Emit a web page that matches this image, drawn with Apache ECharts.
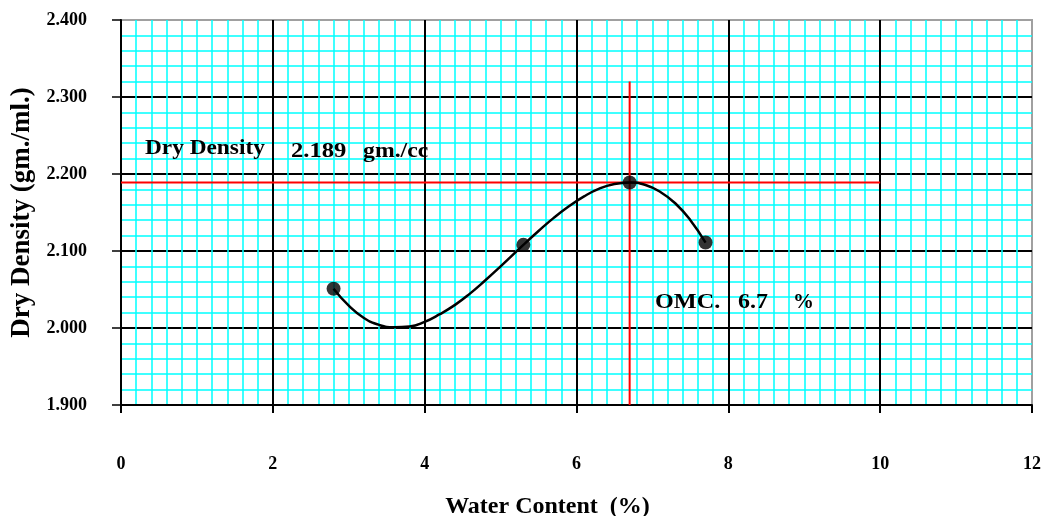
<!DOCTYPE html>
<html>
<head>
<meta charset="utf-8">
<script src="https://cdn.jsdelivr.net/npm/echarts@6/dist/echarts.min.js"></script>
<style>
html,body{margin:0;padding:0;background:#fff;}
#c{width:1044px;height:516px;}
</style>
</head>
<body>
<div id="c"></div>
<script>
// Measured test points (water content %, dry density)
const waterContent = [2.8, 5.3, 6.7, 7.7];
const dryDensity = [2.051, 2.108, 2.189, 2.111];

// Trend curve
const curveX = [2.8, 3.0, 3.2, 3.4, 3.6, 3.8, 4.0, 4.2, 4.4, 4.6, 4.8, 5.0, 5.3, 5.5, 5.7, 5.9, 6.1, 6.3, 6.5, 6.7, 6.9, 7.1, 7.3, 7.5, 7.7];
const curveY = [2.051, 2.029, 2.013, 2.004, 2.001, 2.002, 2.008, 2.018, 2.030, 2.045, 2.062, 2.080, 2.108, 2.126, 2.143, 2.158, 2.171, 2.181, 2.187, 2.189, 2.186, 2.177, 2.162, 2.140, 2.111];

// Result lines
const maxDryDensity = 2.189;
const omc = 6.7;
const mddLineX = [0, 10];
const omcLineY = [1.9, 2.32];

// Axis ranges
const xRange = [0, 12, 2];
const yRange = [1.9, 2.4, 0.1];

const serif = "'Liberation Serif', 'Times New Roman', serif";
const annFont = "bold 22px 'Liberation Serif', serif";

const chart = echarts.init(document.getElementById('c'), null, {renderer: 'canvas'});

function ann(text, x, y, sx) {
  return {type: 'text', x: x, y: y, scaleX: sx, z: 10,
    style: {text: text, font: annFont, fill: '#000', textVerticalAlign: 'middle', verticalAlign: 'middle'}};
}

const option = {
  backgroundColor: '#fff',
  animation: false,
  grid: {left: 121, right: 12, top: 20, bottom: 111, containLabel: false, outerBoundsMode: 'none',
    show: true, borderColor: '#a0a0a0', borderWidth: 2, backgroundColor: 'transparent'},
  xAxis: {
    type: 'value',
    min: xRange[0], max: xRange[1], interval: xRange[2],
    name: 'Water Content  (%)',
    nameLocation: 'middle',
    nameGap: 90,
    nameTextStyle: {fontFamily: serif, fontWeight: 'bold', fontSize: 24, color: '#000', padding: [0, 58, 0, 0]},
    axisLine: {show: true, onZero: false, lineStyle: {color: '#000', width: 2}},
    axisTick: {show: true, length: 8, lineStyle: {color: '#000', width: 2}},
    axisLabel: {margin: 50, fontFamily: serif, fontWeight: 'bold', fontSize: 18, color: '#000'},
    splitLine: {show: true, showMaxLine: false, lineStyle: {color: '#000', width: 2}},
    minorTick: {show: false, splitNumber: 10},
    minorSplitLine: {show: true, lineStyle: {color: '#00ffff', width: 1.5}}
  },
  yAxis: {
    type: 'value',
    min: yRange[0], max: yRange[1], interval: yRange[2],
    name: 'Dry Density (gm./ml.)',
    nameLocation: 'middle',
    nameGap: 82,
    nameTextStyle: {fontFamily: serif, fontWeight: 'bold', fontSize: 27, color: '#000'},
    axisLine: {show: true, onZero: false, lineStyle: {color: '#000', width: 2}},
    axisTick: {show: true, length: 9, lineStyle: {color: '#000', width: 1.5}},
    axisLabel: {margin: 34, fontFamily: serif, fontWeight: 'bold', fontSize: 18, color: '#000',
      formatter: v => v.toFixed(3)},
    splitLine: {show: true, showMaxLine: false, lineStyle: {color: '#000', width: 2}},
    minorTick: {show: false, splitNumber: 5},
    minorSplitLine: {show: true, lineStyle: {color: '#00ffff', width: 1.5}}
  },
  series: [
    {
      type: 'line', name: 'MDD line',
      data: mddLineX.map(x => [x, maxDryDensity]),
      symbol: 'none', lineStyle: {color: '#ff0000', width: 2}, z: 3, silent: true
    },
    {
      type: 'line', name: 'OMC line',
      data: omcLineY.map(y => [omc, y]),
      symbol: 'none', lineStyle: {color: '#ff0000', width: 2}, z: 3, silent: true
    },
    {
      type: 'line', name: 'curve',
      data: curveX.map((x, i) => [x, curveY[i]]),
      smooth: true, symbol: 'none', lineStyle: {color: '#000', width: 2.5}, z: 4
    },
    {
      type: 'scatter', name: 'points',
      data: waterContent.map((x, i) => [x, dryDensity[i]]),
      symbol: 'circle', symbolSize: 14, itemStyle: {color: '#000'}, z: 5
    }
  ],
  graphic: [
    ann('Dry Density', 145, 148, 1.06),
    ann(maxDryDensity.toFixed(3), 291, 151, 1.12),
    ann('gm./cc', 363, 151, 1.08),
    ann('OMC.', 655, 302, 1.1),
    ann(String(omc), 738, 302, 1.09),
    ann('%', 793, 302, 0.95)
  ]
};
chart.setOption(option);
</script>
</body>
</html>
